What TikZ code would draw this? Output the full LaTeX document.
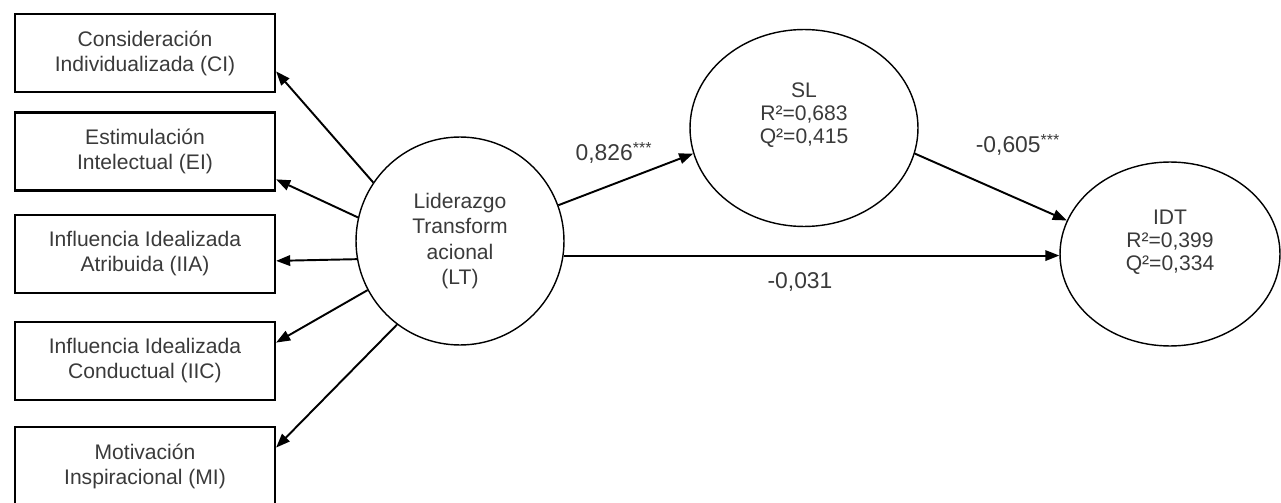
\documentclass[tikz,border=0pt]{standalone}
\usepackage{fontspec}
\setmainfont{Liberation Sans}
\usetikzlibrary{arrows.meta, shapes.geometric, positioning}
\definecolor{labelgray}{HTML}{3A3A3A}
\tikzset{
	dimbox/.style={draw=black, line width=1.3pt, rectangle, minimum width=5.2cm,
			minimum height=1.56cm, align=center, text=labelgray,
			font=\fontsize{12}{14.2}\selectfont}
}
\tikzset{
	latent/.style={draw=black, line width=0.8pt, inner sep=0pt, align=center,
			text=labelgray, font=\fontsize{12}{14.5}\selectfont}
}
\tikzset{
	latenttext/.style={align=center, text=labelgray, font=\fontsize{12}{13}\selectfont}
}
\tikzset{
	pathtext/.style={font=\fontsize{13}{15}\selectfont, text=labelgray}
}
\tikzset{
	loadarrow/.style={line width=1.1pt, -{Triangle[length=8pt,width=6pt]}}
}

\begin{document}
\begin{tikzpicture}[x=0.02cm, y=-0.02cm]

	\useasboundingbox (0,0) rectangle (1281,503);

	\begin{scope}
		\node[dimbox] (CI) at (145,53) {Consideración\\Individualizada (CI)};
		\node[dimbox] (EI) at (145,151.5) {Estimulación\\Intelectual (EI)};
		\node[dimbox] (IIA) at (145,254) {Influencia Idealizada\\Atribuida (IIA)};
		\node[dimbox] (IIC) at (145,361) {Influencia Idealizada\\Conductual (IIC)};
		\node[dimbox] (MI) at (145,466) {Motivación\\Inspiracional (MI)};
	\end{scope}

	\begin{scope}
		\node[latent, circle, minimum size=4.16cm] (LT) at (460,241)
			{Liderazgo\\Transform\\acional\\(LT)};
		\node[latent, ellipse, minimum width=4.56cm, minimum height=3.94cm,
			label={[latenttext, yshift=0.26cm]center:SL\\R²=0,683\\Q²=0,415}] (SL) at (804,128) {};
		\node[latent, ellipse, minimum width=4.4cm, minimum height=3.68cm,
			label={[latenttext, yshift=0.24cm]center:IDT\\R²=0,399\\Q²=0,334}] (IDT) at (1170,254) {};
	\end{scope}

	\begin{scope}
		\draw[loadarrow] (LT.146) -- (CI.-8);
		\draw[loadarrow] (LT.167) -- (EI.-12);
		\draw[loadarrow] (LT.190) -- (IIA.-3);
		\draw[loadarrow] (LT.208) -- (IIC.8);
		\draw[loadarrow] (LT.233) -- (MI.8);

		\draw[loadarrow] (LT.20) -- (SL.193);
		\draw[loadarrow] (LT.-8) -- (IDT.west |- LT.-8);
		\draw[loadarrow] (SL.-13) -- (IDT.162);
	\end{scope}

	\node[pathtext] (wLS) at (614,153) {0,826\textsuperscript{***}};
	\node[pathtext] (wLI) at (800,282) {-0,031};
	\node[pathtext] (wSI) at (1018,145) {-0,605\textsuperscript{***}};

\end{tikzpicture}
\end{document}
